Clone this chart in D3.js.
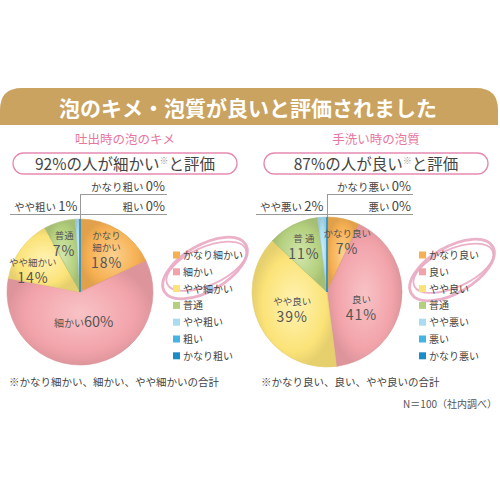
<!doctype html>
<html lang="ja">
<head>
    <meta charset="UTF-8">
    <title>pie</title>
    <script src="https://cdn.jsdelivr.net/npm/d3@7"></script>
    <style>
        body { margin: 0; background: #fff; }
        text { font-family: "Noto Sans CJK JP", sans-serif; }
    </style>
</head>
<body>
<svg width="500" height="500"></svg>
</body>
<script>

    // data
    let title = "泡のキメ・泡質が良いと評価されました";

    let leftTitle = "吐出時の泡のキメ";
    let leftHeadline = ["92%の人が細かい", "※", "と評価"];
    let leftCategories = ["かなり細かい", "細かい", "やや細かい", "普通", "やや粗い", "粗い", "かなり粗い"];
    let leftValues = [18, 60, 14, 7, 1, 0, 0];
    let leftSliceNames = ["かなり\n細かい", "細かい", "やや細かい", "普通", "", "", ""];
    let leftNote = "※かなり細かい、細かい、やや細かいの合計";

    let rightTitle = "手洗い時の泡質";
    let rightHeadline = ["87%の人が良い", "※", "と評価"];
    let rightCategories = ["かなり良い", "良い", "やや良い", "普通", "やや悪い", "悪い", "かなり悪い"];
    let rightValues = [7, 41, 39, 11, 2, 0, 0];
    let rightSliceNames = ["かなり良い", "良い", "やや良い", "普 通", "", "", ""];
    let rightNote = "※かなり良い、良い、やや良いの合計";

    let sampleNote = "N＝100（社内調べ）";

    let colors = ["#f6b052", "#f2a3aa", "#fbe378", "#b4d07e", "#a9dcf0", "#45b4e4", "#1a8cc6"];
    let colorsLight = ["#fbd08f", "#f8c3c6", "#fff3b4", "#d2e6ad", "#d3eefa", "#8cd2f0", "#5cb2de"];

    let svg = d3.select("svg");
    let defs = svg.append("defs");
    colors.forEach((c, i) => {
        let gr = defs.append("radialGradient").attr("id", "grad" + i)
            .attr("cx", "50%").attr("cy", "50%").attr("r", "50%");
        gr.append("stop").attr("offset", "0%").attr("stop-color", colorsLight[i]);
        gr.append("stop").attr("offset", "75%").attr("stop-color", colors[i]);
        gr.append("stop").attr("offset", "100%").attr("stop-color", d3.color(colors[i]).darker(0.25));
    });

    // title band
    let bandTop = 88, bandBottom = 125, rad = 22;
    svg.append("path")
        .attr("d", `M0,${bandBottom} L0,${bandTop + rad} Q0,${bandTop} ${rad},${bandTop} L${498 - rad},${bandTop} Q498,${bandTop} 498,${bandTop + rad} L498,${bandBottom} Z`)
        .attr("fill", "#c9a35f");
    svg.append("text")
        .attr("x", 248).attr("y", 116)
        .attr("text-anchor", "middle")
        .attr("fill", "#fff")
        .attr("font-size", 21)
        .attr("font-weight", "bold")
        .text(title);

    function drawPanel(opt) {
        let g = svg.append("g");
        let cx = opt.cx, cy = 292, r = opt.r;

        g.append("text")
            .attr("x", opt.mid).attr("y", 144)
            .attr("text-anchor", "middle")
            .attr("fill", "#e8769f")
            .attr("font-size", 12.5)
            .text(opt.title);

        g.append("rect")
            .attr("x", opt.mid - 112).attr("y", 153)
            .attr("width", 224).attr("height", 21)
            .attr("rx", 10.5)
            .attr("fill", "#fff")
            .attr("stroke", "#e58bb0")
            .attr("stroke-width", 1.3);

        let head = g.append("text")
            .attr("x", opt.mid).attr("y", 170)
            .attr("text-anchor", "middle")
            .attr("fill", "#444")
            .attr("font-size", 15.5);
        head.append("tspan").text(opt.headline[0]);
        head.append("tspan").attr("font-size", 9).attr("dy", -6).attr("fill", "#999").text(opt.headline[1]);
        head.append("tspan").attr("dy", 6).text(opt.headline[2]);

        // leader lines for tiny slices
        let lines = g.append("g").attr("stroke", "#999").attr("stroke-width", 1).attr("fill", "none");
        lines.append("line").attr("x1", cx).attr("x2", opt.lineRight).attr("y1", 194.5).attr("y2", 194.5);
        lines.append("line").attr("x1", cx).attr("x2", opt.lineRight).attr("y1", 214.5).attr("y2", 214.5);
        lines.append("line").attr("x1", opt.lineLeft).attr("x2", cx).attr("y1", 214.5).attr("y2", 214.5);
        lines.append("line").attr("x1", cx + 0.5).attr("x2", cx + 0.5).attr("y1", 194.5).attr("y2", cy - r + 2);

        let n = opt.categories.length;
        let leader = [
            {name: opt.categories[n - 1], v: opt.values[n - 1], x: opt.lineRight - 2, y: 191, anchor: "end"},
            {name: opt.categories[n - 2], v: opt.values[n - 2], x: opt.lineRight - 2, y: 211, anchor: "end"},
            {name: opt.categories[n - 3], v: opt.values[n - 3], x: opt.lineLeft + 4, y: 211, anchor: "start"}
        ];
        leader.forEach(d => {
            let t = g.append("text").attr("x", d.x).attr("y", d.y)
                .attr("text-anchor", d.anchor).attr("fill", "#444");
            t.append("tspan").attr("font-size", 10.5).text(d.name + " ");
            t.append("tspan").attr("font-size", 13).text(d.v + "%");
        });

        // pie
        let pie = d3.pie().sort(null).value(d => d);
        let arcs = pie(opt.values);
        let arc = d3.arc().innerRadius(0).outerRadius(r);
        let pg = g.append("g").attr("transform", "translate(" + cx + "," + cy + ")");
        pg.selectAll("path").data(arcs).enter().append("path")
            .attr("d", arc)
            .attr("fill", (d, i) => "url(#grad" + i + ")")
            .attr("stroke", (d, i) => d3.color(colors[i]).darker(0.3))
            .attr("stroke-width", 0.6);

        arcs.forEach((d, i) => {
            if (!opt.sliceNames[i]) return;
            let f = d.value > 50 ? 0.4 : d.value >= 30 ? 0.52 : 0.68;
            let la = d3.arc().innerRadius(r * f).outerRadius(r * f);
            let c = la.centroid(d);
            let nd = opt.nudge[i] || [0, 0];
            let x = c[0] + nd[0], y = c[1] + nd[1];
            if (d.value > 50) {
                let t = pg.append("text").attr("x", x).attr("y", y + 6)
                    .attr("text-anchor", "middle").attr("fill", "#555");
                t.append("tspan").attr("font-size", 10).text(opt.sliceNames[i]);
                t.append("tspan").attr("font-size", 14.5).text(d.value + "%");
                return;
            }
            let names = opt.sliceNames[i].split("\n");
            let h = names.length * 12 + 16;
            let y0 = y - h / 2 + 9;
            names.forEach((s, k) => {
                pg.append("text").attr("x", x).attr("y", y0 + k * 12)
                    .attr("text-anchor", "middle").attr("fill", "#555")
                    .attr("font-size", 9.5).text(s);
            });
            pg.append("text").attr("x", x).attr("y", y0 + names.length * 12 + 5)
                .attr("text-anchor", "middle").attr("fill", "#555")
                .attr("font-size", 14).attr("letter-spacing", 1).text(d.value + "%");
        });

        // swirl
        let sw = g.append("g").attr("fill", "none").attr("stroke", "#e9a9c3").attr("stroke-opacity", 0.9);
        sw.append("ellipse").attr("cx", opt.swirl[0]).attr("cy", opt.swirl[1]).attr("rx", 47).attr("ry", 23)
            .attr("stroke-width", 2.8)
            .attr("transform", "rotate(-30," + opt.swirl[0] + "," + opt.swirl[1] + ")");
        sw.append("ellipse").attr("cx", opt.swirl[0] + 2).attr("cy", opt.swirl[1] - 1).attr("rx", 43).attr("ry", 19)
            .attr("stroke-width", 1.8)
            .attr("transform", "rotate(-24," + opt.swirl[0] + "," + opt.swirl[1] + ")");

        // legend
        let lg = g.append("g");
        opt.categories.forEach((c, i) => {
            let y = 255 + i * 16.8;
            lg.append("rect").attr("x", opt.legendX).attr("y", y - 3.5)
                .attr("width", 7).attr("height", 7).attr("fill", colors[i]);
            lg.append("text").attr("x", opt.legendX + 10).attr("y", y + 4)
                .attr("font-size", 10).attr("fill", "#444").text(c);
        });

        g.append("text").attr("x", opt.noteX).attr("y", 386)
            .attr("font-size", 10.5).attr("fill", "#444").text(opt.note);
    }

    drawPanel({
        cx: 80, r: 73, mid: 125, lineLeft: 10, lineRight: 167, legendX: 173, noteX: 9,
        swirl: [205, 268], nudge: [[0, 0], [0, 0], [-7, 8], [-2, 0]],
        title: leftTitle, headline: leftHeadline, categories: leftCategories,
        values: leftValues, sliceNames: leftSliceNames, note: leftNote
    });
    drawPanel({
        cx: 327, r: 75, mid: 376, lineLeft: 256, lineRight: 413, legendX: 419, noteX: 261,
        swirl: [452, 270], nudge: [[9, 0], [-4, 10], [0, 0], [0, 0]],
        title: rightTitle, headline: rightHeadline, categories: rightCategories,
        values: rightValues, sliceNames: rightSliceNames, note: rightNote
    });

    svg.append("text").attr("x", 497).attr("y", 408)
        .attr("text-anchor", "end").attr("font-size", 10).attr("fill", "#555")
        .text(sampleNote);

</script>
</html>
